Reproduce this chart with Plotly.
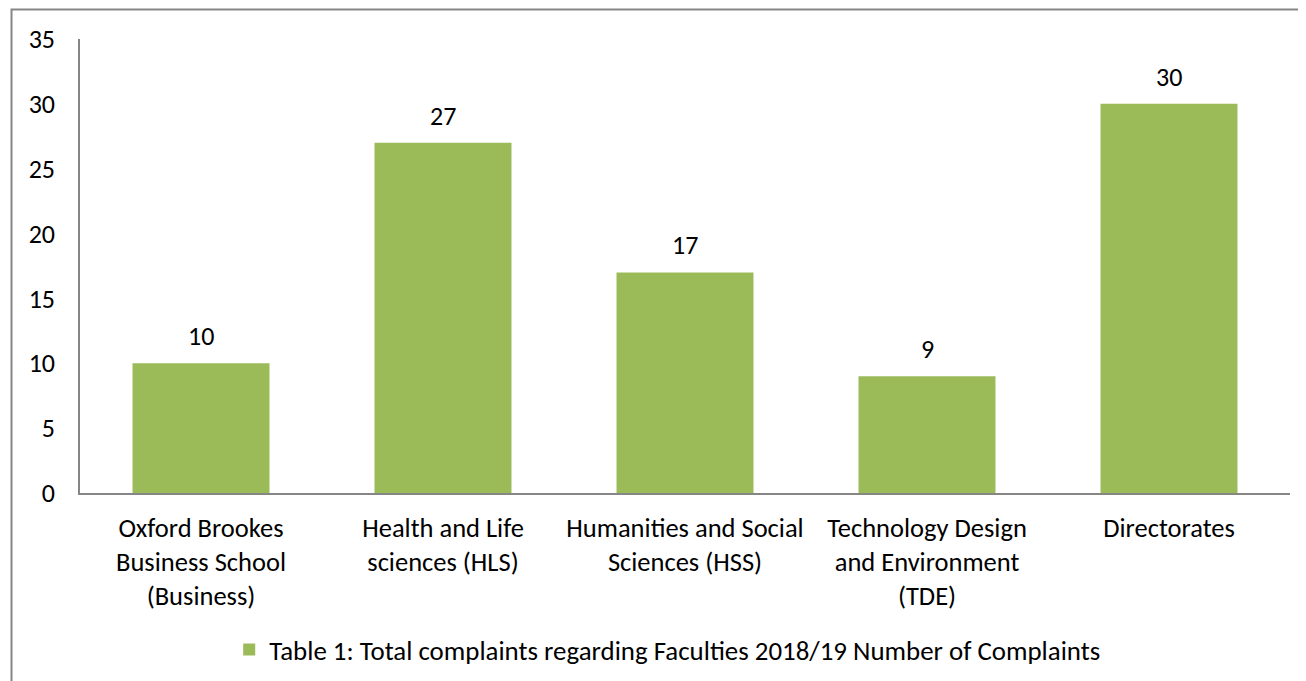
import plotly.graph_objects as go

categories = [
    "Oxford Brookes<br>Business School<br>(Business)",
    "Health and Life<br>sciences (HLS)",
    "Humanities and Social<br>Sciences (HSS)",
    "Technology Design<br>and Environment<br>(TDE)",
    "Directorates",
]
complaints = [10, 27, 17, 9, 30]
series_name = "Table 1: Total complaints regarding Faculties 2018/19 Number of Complaints"
y_ticks = [0, 5, 10, 15, 20, 25, 30, 35]

FONT = "Carlito, Calibri, Lato, sans-serif"
GREEN = "#9BBB59"
AXIS = "#868686"
FS = 26.5

fig = go.Figure()
fig.add_trace(go.Bar(
    x=categories, y=complaints, name=series_name,
    marker=dict(color=GREEN, line=dict(width=0)),
    showlegend=True,
))
for c, v in zip(categories, complaints):
    fig.add_annotation(x=c, y=v, text=str(v), showarrow=False, yanchor="bottom",
                       yshift=9, font=dict(size=26, family=FONT, color="#000000"))

fig.update_layout(
    width=1306, height=681,
    margin=dict(l=72, r=24, t=31, b=196),
    paper_bgcolor="white", plot_bgcolor="white",
    font=dict(family=FONT, size=FS, color="#000000"),
    bargap=0.434,
    showlegend=True,
    legend=dict(orientation="h", x=0.4857, xanchor="center", y=-0.345, yanchor="middle",
                font=dict(size=26.9, family=FONT)),
    xaxis=dict(showline=True, linecolor=AXIS, linewidth=1.5, ticks="",
               tickfont=dict(size=FS, family=FONT), showgrid=False, ticklabelstandoff=10),
    yaxis=dict(range=[0, 35], tickvals=y_ticks, showline=True, linecolor=AXIS, linewidth=1.5,
               ticks="", showgrid=False, zeroline=False, ticklabelstandoff=18,
               tickfont=dict(size=26, family=FONT)),
    shapes=[dict(type="rect", xref="paper", yref="paper",
                 x0=-0.0566, x1=1.0124, y0=-0.6, y1=1.065,
                 line=dict(color=AXIS, width=2), fillcolor="rgba(0,0,0,0)")],
)

fig.write_html("out.html")
